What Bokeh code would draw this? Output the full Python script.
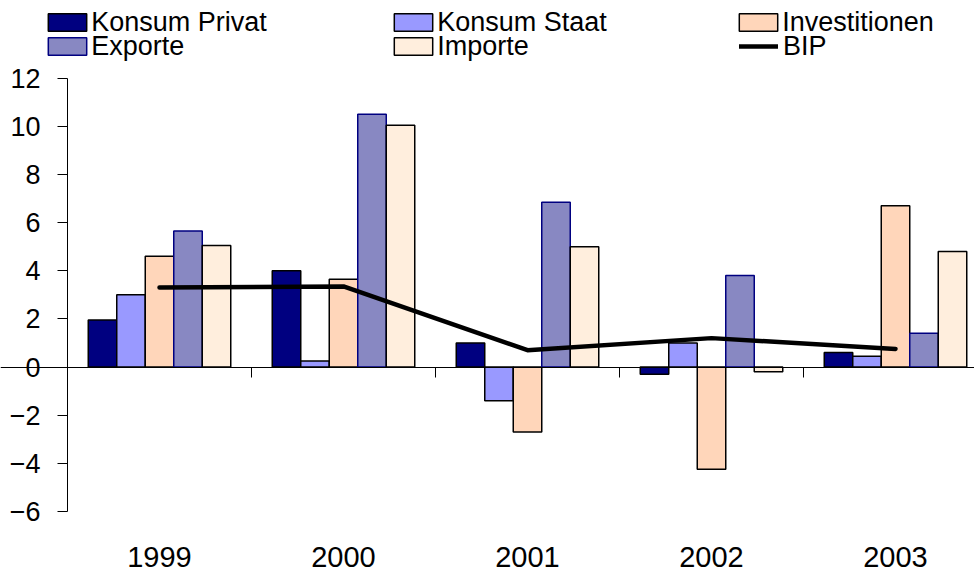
import numpy as np
from bokeh.plotting import figure
from bokeh.models import (Range1d, LinearAxis, FixedTicker, Legend, LegendItem,
                          ColumnDataSource)
from bokeh.embed import file_html
from bokeh.resources import INLINE

years = ["1999", "2000", "2001", "2002", "2003"]
konsum_privat = [1.95, 4.0, 1.0, -0.3, 0.6]
konsum_staat = [3.0, 0.25, -1.4, 1.0, 0.45]
investitionen = [4.6, 3.65, -2.7, -4.25, 6.7]
exporte = [5.65, 10.5, 6.85, 3.8, 1.4]
importe = [5.05, 10.05, 5.0, -0.2, 4.8]
bip = [3.3, 3.35, 0.7, 1.2, 0.75]
y_ticks = [-6, -4, -2, 0, 2, 4, 6, 8, 10, 12]

series = [
    ("Konsum Privat", konsum_privat, "#000080", "black"),
    ("Konsum Staat", konsum_staat, "#9999FF", "black"),
    ("Investitionen", investitionen, "#FFD6BA", "black"),
    ("Exporte", exporte, "#8888C2", "#000080"),
    ("Importe", importe, "#FFEEDD", "black"),
]

FONT = "Liberation Sans"
W, H = 974, 569
AXIS_X = 67          # pixel position of the value axis
cat_px = 184.0       # pixel width of one year group
px_per_unit = 24.06
zero_px = 366.5

p = figure(width=W, height=H, output_backend="svg", toolbar_location=None,
           x_range=Range1d(-AXIS_X / cat_px, (W - AXIS_X) / cat_px),
           y_range=Range1d(-(H - zero_px) / px_per_unit, zero_px / px_per_unit),
           x_axis_location=None, y_axis_location="left",
           min_border_left=0, min_border_right=0, min_border_top=0,
           min_border_bottom=0)
p.outline_line_color = None
p.grid.visible = False
p.background_fill_color = "white"

centers = np.arange(len(years)) + 0.5
bw = 28.5 / cat_px
renderers = []
for i, (name, vals, fill, line) in enumerate(series):
    src = ColumnDataSource(dict(x=centers + (i - 2) * bw, top=vals))
    r = p.vbar(x="x", top="top", bottom=0, width=bw, source=src,
               fill_color=fill, line_color=line, line_width=1.5)
    renderers.append((name, r))

bl = p.line(x=centers[:len(bip)], y=bip, line_color="black", line_width=4.5,
            line_cap="round", line_join="round")
renderers.append(("BIP", bl))

# value axis at x = 0, line only from -6 to 12
yax = p.yaxis[0]
yax.fixed_location = 0
yax.ticker = FixedTicker(ticks=y_ticks)
yax.bounds = (min(y_ticks), max(y_ticks))
yax.major_tick_out = 10
yax.major_tick_in = 0
yax.minor_tick_line_color = None
yax.axis_line_color = "black"
yax.major_tick_line_color = "black"
yax.major_label_text_font = FONT
yax.major_label_text_font_size = "27px"
yax.major_label_text_color = "black"
yax.major_label_standoff = 17

# axis line with tick marks at the zero value
zero_ax = LinearAxis(fixed_location=0,
                     ticker=FixedTicker(ticks=list(range(len(years) + 1))),
                     major_label_text_font_size="0px", major_label_standoff=0,
                     major_tick_in=0, major_tick_out=10,
                     minor_tick_line_color=None,
                     axis_line_color="black", major_tick_line_color="black")
p.add_layout(zero_ax, "below")

# category labels below the lowest value
lab_ax = LinearAxis(fixed_location=min(y_ticks),
                    ticker=FixedTicker(ticks=list(centers)),
                    major_label_overrides={float(c): y for c, y in zip(centers, years)},
                    axis_line_color=None, major_tick_line_color=None,
                    minor_tick_line_color=None, major_label_standoff=30,
                    major_label_text_font=FONT, major_label_text_font_size="29px",
                    major_label_text_color="black")
p.add_layout(lab_ax, "below")

# legend: 3 columns x 2 rows, one legend per entry
col_left = [48, 394, 739]     # left edge of the legend symbols
row_mid = [22, 46]            # vertical middle of the legend rows
GW, GH, LH = 47.5, 22.5, 32
for k, (name, r) in enumerate(renderers):
    col, row = k % 3, k // 3
    is_line = name == "BIP"
    gw = 39 if is_line else GW
    x = col_left[col] - (0 if is_line else 0.1 * GW)
    leg = Legend(items=[LegendItem(label=name, renderers=[r])],
                 location=(x, H - row_mid[row] - LH / 2),
                 glyph_width=int(round(gw)), glyph_height=int(round(GH)),
                 label_standoff=5 if is_line else 0, label_height=LH,
                 spacing=0, padding=0, margin=0,
                 border_line_color=None, background_fill_alpha=0,
                 label_text_font=FONT, label_text_font_size="27px",
                 label_text_color="black")
    p.add_layout(leg, "center")

open("out.html", "w").write(file_html(p, INLINE))
